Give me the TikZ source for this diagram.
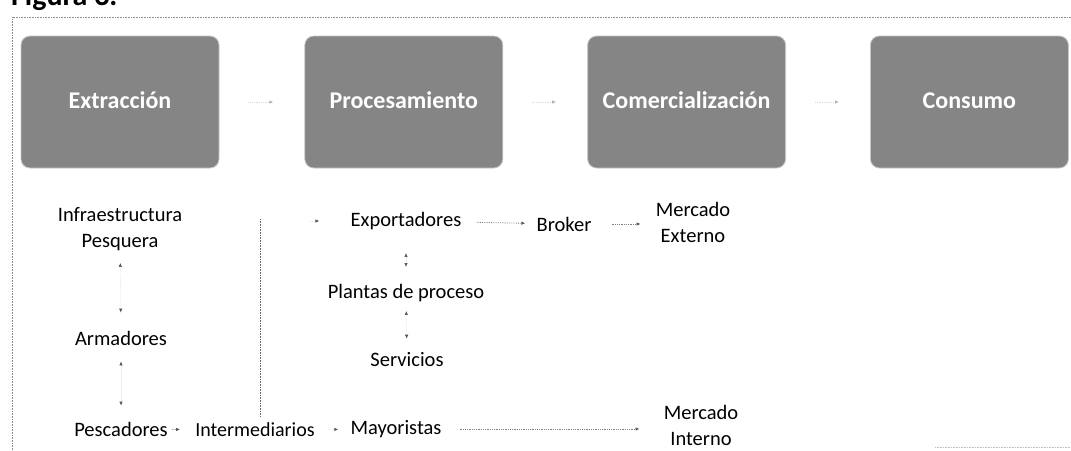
\documentclass[tikz,border=0pt]{standalone}
\usepackage{fontspec}
\setmainfont{Carlito}
\usepackage{tikz}
\usetikzlibrary{positioning, arrows.meta}

\begin{document}
\begin{tikzpicture}
[
x=1pt, y=1pt,
cell-a/.style={rectangle, rounded corners=9pt, fill=black!48, draw=black!22, line width=0.8pt, minimum width=198pt, minimum height=132pt, text height=16pt, text depth=3pt, text=white, font=\fontsize{24}{28}\selectfont\bfseries},
text-a/.style={black, align=center, inner sep=1pt, font=\fontsize{20.5}{26}\selectfont},
text-b/.style={black, align=center, inner sep=1pt, font=\fontsize{20}{24}\selectfont},
link-a/.style={black!50, densely dotted, line width=0.8pt, -{Latex[length=4pt, width=3.5pt, color=black!65]}},
link-b/.style={black!12, densely dotted, line width=0.6pt, {Latex[length=4pt, width=3.5pt, color=black!65]}-{Latex[length=4pt, width=3.5pt, color=black!65]}},
link-c/.style={black!15, densely dotted, line width=0.8pt, -{Latex[length=4pt, width=3.5pt, color=black!30]}},
frame-a/.style={black!45, densely dotted, line width=0.6pt}
]
\useasboundingbox (0,0) rectangle (1071,-450);
\clip (0,0) rectangle (1071,-450);

% frame and title
\draw [frame-a] (12,-450) -- (12,-17) -- (1071,-17);
\draw [frame-a, black!25] (935,-447) -- (1071,-447);
\node (title) [anchor=base west, inner sep=0pt, font=\fontsize{30}{34}\selectfont\bfseries] at (11,-5) {Figura 3.};

% stages
\node (box-1) [cell-a                        ] at (120,-102) {Extracción};
\node (box-2) [cell-a, right = 85pt of box-1] {Procesamiento};
\node (box-3) [cell-a, right = 84pt of box-2] {Comercialización};
\node (box-4) [cell-a, right = 84pt of box-3] {Consumo};
\draw [link-c, shorten <=29pt, shorten >=31pt] (box-1) -- (box-2);
\draw [link-c, shorten <=29pt, shorten >=31pt] (box-2) -- (box-3);
\draw [link-c, shorten <=29pt, shorten >=31pt] (box-3) -- (box-4);

% actors
\node (infra) [text-a] at (120,-229) {Infraestructura\\Pesquera};
\node (arma)  [text-a] at (121,-338) {Armadores};
\node (pesca) [text-a] at (121,-429) {Pescadores};
\node (inter) [text-b] at (255,-430) {Intermediarios};
\node (mayor) [text-a] at (396,-429) {Mayoristas};
\node (m-int) [text-a] at (701,-425) {Mercado\\Interno};
\node (expo)  [text-a] at (406,-221) {Exportadores};
\node (brok)  [text-a] at (564,-224) {Broker};
\node (m-ext) [text-a] at (693,-222) {Mercado\\Externo};
\node (plant) [text-a] at (406,-293) {Plantas de proceso};
\node (serv)  [text-a] at (407,-360) {Servicios};
\coordinate (v-top) at (260,-219);
\coordinate (v-bot) at (260,-416);

% flows
\draw [black!60, densely dotted, line width=0.6pt] (v-top) -- (v-bot);
\draw [link-b, shorten <=11pt, shorten >=17pt] (infra) -- (arma);
\draw [link-b, shorten <=15pt, shorten >=15pt] (arma) -- (pesca);
\draw [link-b, shorten <=22pt, shorten >=16pt] (expo) -- (plant);
\draw [link-b, shorten <=8pt,  shorten >=13pt] (plant) -- (serv);
\draw [link-a, shorten <=3pt,  shorten >=14pt] (pesca) -- (inter);
\draw [link-a, black!12, shorten <=12pt, shorten >=11pt] (inter) -- (mayor);
\draw [link-a, shorten <=17pt, shorten >=23pt] (mayor) -- (mayor -| m-int.west);
\draw [link-a, shorten <=14pt, shorten >=10pt] (expo) -- (brok);
\draw [link-a, shorten <=19pt, shorten >=14pt] (brok) -- (brok -| m-ext.west);
\draw [link-a, black!12, shorten <=50pt, shorten >=30pt] (v-top |- expo) -- (expo);
\end{tikzpicture}
\end{document}
